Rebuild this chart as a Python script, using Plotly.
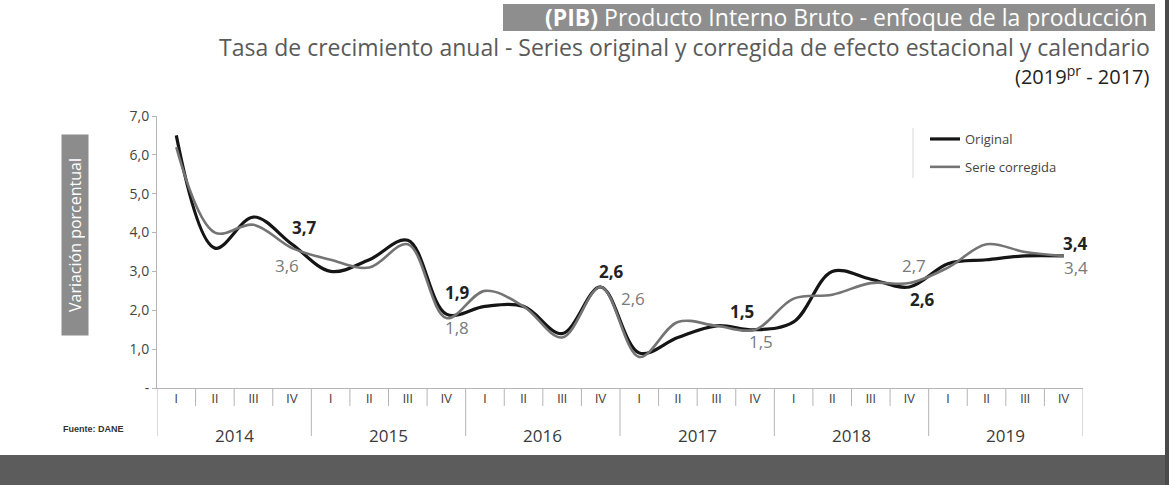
import plotly.graph_objects as go

# ---- data ----
years = ["2014", "2015", "2016", "2017", "2018", "2019"]
quarters = ["I", "II", "III", "IV"]
original = [6.5, 3.6, 4.4, 3.7, 3.0, 3.3, 3.8, 1.9,
            2.1, 2.1, 1.4, 2.6, 0.9, 1.3, 1.6, 1.5,
            1.7, 3.0, 2.8, 2.6, 3.2, 3.3, 3.4, 3.4]
corregida = [6.2, 4.0, 4.2, 3.6, 3.3, 3.1, 3.7, 1.8,
             2.5, 2.1, 1.3, 2.6, 0.8, 1.7, 1.6, 1.5,
             2.3, 2.4, 2.7, 2.7, 3.1, 3.7, 3.5, 3.4]
y_ticks = [0, 1, 2, 3, 4, 5, 6, 7]
y_ticktext = ["-", "1,0", "2,0", "3,0", "4,0", "5,0", "6,0", "7,0"]
# labelled points: (index, dx, dy) in pixels
labels_orig = [(3, 12, 17), (7, 11, 22), (11, 11, 15), (15, -13, 18), (19, 13, -13), (23, 12, 12)]
labels_corr = [(3, -5, -17), (7, 11, -9), (11, 32, -12), (15, 6, -12), (19, 5, 18), (23, 12, -12)]

n = len(original)
xs = list(range(n))
qtext = [quarters[i % 4] for i in xs]

BLACK = "#151515"
GRAY = "#747474"
FONT = "Open Sans"

# plot area in pixels
L, R, T, B = 157, 1083, 116, 388
W, H = R - L, B - T


def px(x):
    return (x - L) / W


def py(y):
    return (B - y) / H


fig = go.Figure()
fig.add_trace(go.Scatter(x=xs, y=original, mode="lines", name="Original",
                         line=dict(color=BLACK, width=3.2, shape="spline", smoothing=1.0),
                         legendgroup="a"))
fig.add_trace(go.Scatter(x=xs, y=corregida, mode="lines", name="Serie corregida",
                         line=dict(color=GRAY, width=2.6, shape="spline", smoothing=1.0),
                         legendgroup="b"))


def fmt(v):
    return f"{v:.1f}".replace(".", ",")


for i, dx, dy in labels_orig:
    fig.add_annotation(x=i, y=original[i], xref="x", yref="y", text=f"<b>{fmt(original[i])}</b>",
                       showarrow=False, xshift=dx, yshift=dy,
                       font=dict(family=FONT, size=17, color="#222222"))
for i, dx, dy in labels_corr:
    fig.add_annotation(x=i, y=corregida[i], xref="x", yref="y", text=fmt(corregida[i]),
                       showarrow=False, xshift=dx, yshift=dy,
                       font=dict(family=FONT, size=17, color="#7a7a7a"))

shapes = []
# quarter / year dividers
for k in range(n + 1):
    is_year = (k % 4 == 0)
    shapes.append(dict(type="line", xref="x", yref="paper",
                       x0=k - 0.5, x1=k - 0.5,
                       y0=0, y1=(py(436) if is_year else py(406)),
                       line=dict(color="#b5b5b5", width=1)))
# year labels
for j, yr in enumerate(years):
    fig.add_annotation(x=j * 4 + 1.5, y=py(435), xref="x", yref="paper", text=yr,
                       showarrow=False, yanchor="middle",
                       font=dict(family=FONT, size=17, color="#3a3a3a"))

# title box
shapes.append(dict(type="rect", xref="paper", yref="paper", x0=px(503), x1=px(1155),
                   y0=py(31), y1=py(4), fillcolor="#8e8e8e", line=dict(width=0), layer="below"))
# legend left rule
shapes.append(dict(type="line", xref="paper", yref="paper", x0=px(913), x1=px(913),
                   y0=py(178), y1=py(128), line=dict(color="#d8d8d8", width=1)))
# bottom band
shapes.append(dict(type="rect", xref="paper", yref="paper", x0=px(0), x1=px(1169),
                   y0=py(485), y1=py(455), fillcolor="#5c5c5c", line=dict(width=0)))
# right border
shapes.append(dict(type="rect", xref="paper", yref="paper", x0=px(1165), x1=px(1169),
                   y0=py(485), y1=py(0), fillcolor="#4a4a4a", line=dict(width=0)))

fig.add_annotation(x=px(1150), y=py(17), xref="paper", yref="paper",
                   xanchor="right", yanchor="middle", showarrow=False,
                   text="<b>(PIB)</b> Producto Interno Bruto - enfoque de la producción",
                   font=dict(family=FONT, size=23, color="#ffffff"))
fig.add_annotation(x=px(1152), y=py(47), xref="paper", yref="paper",
                   xanchor="right", yanchor="middle", showarrow=False,
                   text="Tasa de crecimiento anual - Series original y corregida de efecto estacional y calendario",
                   font=dict(family=FONT, size=23, color="#5a5a5a"))
fig.add_annotation(x=px(1152), y=py(75), xref="paper", yref="paper",
                   xanchor="right", yanchor="middle", showarrow=False,
                   text="(2019<sup>pr</sup> - 2017)",
                   font=dict(family=FONT, size=20, color="#222222"))
fig.add_annotation(x=px(75), y=py(235), xref="paper", yref="paper",
                   xanchor="center", yanchor="middle",
                   showarrow=False, textangle=-90, text="Variación porcentual",
                   width=194, height=20, borderpad=3, bgcolor="#8c8c8c",
                   font=dict(family=FONT, size=16, color="#ffffff"))
fig.add_annotation(x=px(93), y=py(436), xref="paper", yref="paper", xanchor="center",
                   showarrow=False, text="<b>Fuente: DANE</b>",
                   font=dict(family="Liberation Sans Narrow, Liberation Sans", size=9, color="#333333"))

fig.update_layout(
    width=1169, height=485,
    margin=dict(l=L, r=1169 - R, t=T, b=485 - B),
    paper_bgcolor="#ffffff", plot_bgcolor="#ffffff",
    showlegend=True,
    legend=dict(x=px(925), y=py(124), xanchor="left", yanchor="top",
                bgcolor="rgba(0,0,0,0)", tracegroupgap=8,
                font=dict(family=FONT, size=13, color="#444444")),
    shapes=shapes,
    xaxis=dict(range=[-0.5, n - 0.5], tickvals=xs, ticktext=qtext, showgrid=False, zeroline=False,
               showline=True, linecolor="#b5b5b5", linewidth=1, ticks="",
               tickfont=dict(family="Liberation Sans Narrow, Liberation Sans", size=12, color="#444444"),
               fixedrange=True),
    yaxis=dict(range=[0, 7], tickvals=y_ticks, ticktext=y_ticktext, showgrid=False, zeroline=False,
               showline=True, linecolor="#b5b5b5", linewidth=1, ticks="outside", ticklen=4,
               tickcolor="#b5b5b5",
               tickfont=dict(family=FONT, size=14, color="#444444"), fixedrange=True),
)

fig.write_html("out.html", config={"displayModeBar": False},
               post_script="document.body.style.margin='0';")
